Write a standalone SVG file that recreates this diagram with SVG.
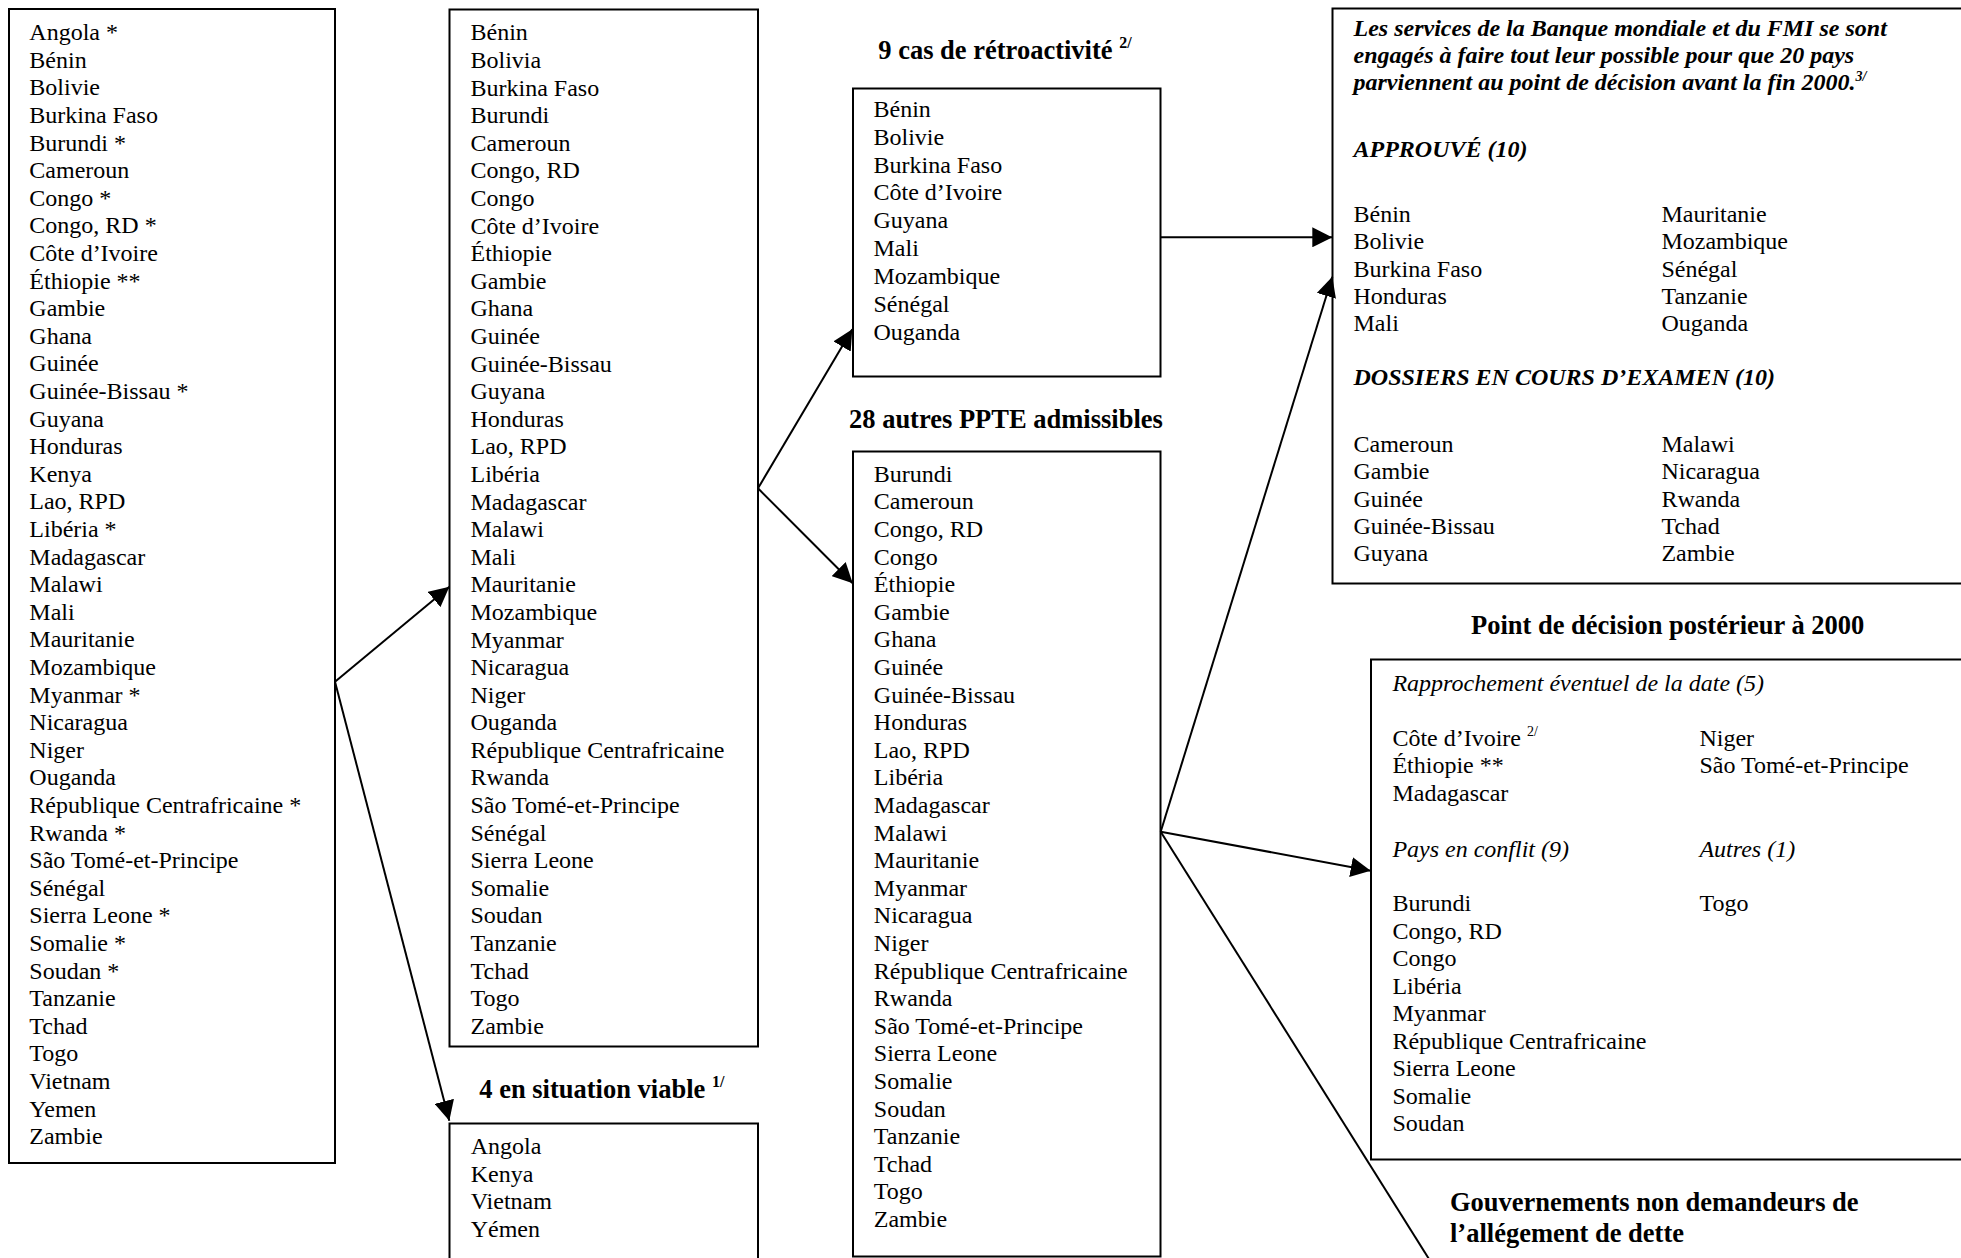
<svg xmlns="http://www.w3.org/2000/svg" width="1961" height="1258" viewBox="0 0 1961 1258">
<style>
.bx{fill:none;stroke:#000;stroke-width:2}
.cn line{stroke:#000;stroke-width:2}
text{font-family:"Liberation Serif","Times New Roman",serif;font-size:24px;fill:#000}
.h{font-weight:bold;font-size:26.5px}
.bi{font-weight:bold;font-style:italic}
.it{font-style:italic}
.sup{font-size:16px}
.sups{font-size:14px}
</style>
<defs>
<marker id="ah" markerWidth="20" markerHeight="20" refX="20" refY="10" orient="auto" markerUnits="userSpaceOnUse"><path d="M0,0 L20,10 L0,20 z" fill="#000"/></marker>
</defs>
<rect width="1961" height="1258" fill="#fff"/>

<g id="all-countries">
<rect class="bx" x="9" y="9" width="326" height="1154"/>
<text x="29.3" y="40.2"><tspan x="29.3" dy="0">Angola *</tspan><tspan x="29.3" dy="27.6">Bénin</tspan><tspan x="29.3" dy="27.6">Bolivie</tspan><tspan x="29.3" dy="27.6">Burkina Faso</tspan><tspan x="29.3" dy="27.6">Burundi  *</tspan><tspan x="29.3" dy="27.6">Cameroun</tspan><tspan x="29.3" dy="27.6">Congo *</tspan><tspan x="29.3" dy="27.6">Congo, RD *</tspan><tspan x="29.3" dy="27.6">Côte d’Ivoire</tspan><tspan x="29.3" dy="27.6">Éthiopie **</tspan><tspan x="29.3" dy="27.6">Gambie</tspan><tspan x="29.3" dy="27.6">Ghana</tspan><tspan x="29.3" dy="27.6">Guinée</tspan><tspan x="29.3" dy="27.6">Guinée-Bissau *</tspan><tspan x="29.3" dy="27.6">Guyana</tspan><tspan x="29.3" dy="27.6">Honduras</tspan><tspan x="29.3" dy="27.6">Kenya</tspan><tspan x="29.3" dy="27.6">Lao, RPD</tspan><tspan x="29.3" dy="27.6">Libéria *</tspan><tspan x="29.3" dy="27.6">Madagascar</tspan><tspan x="29.3" dy="27.6">Malawi</tspan><tspan x="29.3" dy="27.6">Mali</tspan><tspan x="29.3" dy="27.6">Mauritanie</tspan><tspan x="29.3" dy="27.6">Mozambique</tspan><tspan x="29.3" dy="27.6">Myanmar *</tspan><tspan x="29.3" dy="27.6">Nicaragua</tspan><tspan x="29.3" dy="27.6">Niger</tspan><tspan x="29.3" dy="27.6">Ouganda</tspan><tspan x="29.3" dy="27.6">République Centrafricaine *</tspan><tspan x="29.3" dy="27.6">Rwanda *</tspan><tspan x="29.3" dy="27.6">São Tomé-et-Principe</tspan><tspan x="29.3" dy="27.6">Sénégal</tspan><tspan x="29.3" dy="27.6">Sierra Leone *</tspan><tspan x="29.3" dy="27.6">Somalie *</tspan><tspan x="29.3" dy="27.6">Soudan *</tspan><tspan x="29.3" dy="27.6">Tanzanie</tspan><tspan x="29.3" dy="27.6">Tchad</tspan><tspan x="29.3" dy="27.6">Togo</tspan><tspan x="29.3" dy="27.6">Vietnam</tspan><tspan x="29.3" dy="27.6">Yemen</tspan><tspan x="29.3" dy="27.6">Zambie</tspan></text>
</g>

<g id="hipc-list">
<rect class="bx" x="449.5" y="9.5" width="308.5" height="1037"/>
<text x="470.5" y="40.3"><tspan x="470.5" dy="0">Bénin</tspan><tspan x="470.5" dy="27.6">Bolivia</tspan><tspan x="470.5" dy="27.6">Burkina Faso</tspan><tspan x="470.5" dy="27.6">Burundi</tspan><tspan x="470.5" dy="27.6">Cameroun</tspan><tspan x="470.5" dy="27.6">Congo, RD</tspan><tspan x="470.5" dy="27.6">Congo</tspan><tspan x="470.5" dy="27.6">Côte d’Ivoire</tspan><tspan x="470.5" dy="27.6">Éthiopie</tspan><tspan x="470.5" dy="27.6">Gambie</tspan><tspan x="470.5" dy="27.6">Ghana</tspan><tspan x="470.5" dy="27.6">Guinée</tspan><tspan x="470.5" dy="27.6">Guinée-Bissau</tspan><tspan x="470.5" dy="27.6">Guyana</tspan><tspan x="470.5" dy="27.6">Honduras</tspan><tspan x="470.5" dy="27.6">Lao, RPD</tspan><tspan x="470.5" dy="27.6">Libéria</tspan><tspan x="470.5" dy="27.6">Madagascar</tspan><tspan x="470.5" dy="27.6">Malawi</tspan><tspan x="470.5" dy="27.6">Mali</tspan><tspan x="470.5" dy="27.6">Mauritanie</tspan><tspan x="470.5" dy="27.6">Mozambique</tspan><tspan x="470.5" dy="27.6">Myanmar</tspan><tspan x="470.5" dy="27.6">Nicaragua</tspan><tspan x="470.5" dy="27.6">Niger</tspan><tspan x="470.5" dy="27.6">Ouganda</tspan><tspan x="470.5" dy="27.6">République Centrafricaine</tspan><tspan x="470.5" dy="27.6">Rwanda</tspan><tspan x="470.5" dy="27.6">São Tomé-et-Principe</tspan><tspan x="470.5" dy="27.6">Sénégal</tspan><tspan x="470.5" dy="27.6">Sierra Leone</tspan><tspan x="470.5" dy="27.6">Somalie</tspan><tspan x="470.5" dy="27.6">Soudan</tspan><tspan x="470.5" dy="27.6">Tanzanie</tspan><tspan x="470.5" dy="27.6">Tchad</tspan><tspan x="470.5" dy="27.6">Togo</tspan><tspan x="470.5" dy="27.6">Zambie</tspan></text>
</g>

<g id="viable">
<text class="h" x="479.3" y="1098.3">4 en situation viable <tspan class="sup" dy="-11">1/</tspan></text>
<rect class="bx" x="449.5" y="1123.5" width="308.5" height="160"/>
<text x="470.7" y="1154"><tspan x="470.7" dy="0">Angola</tspan><tspan x="470.7" dy="27.6">Kenya</tspan><tspan x="470.7" dy="27.6">Vietnam</tspan><tspan x="470.7" dy="27.6">Yémen</tspan></text>
</g>

<g id="retro">
<text class="h" x="878.3" y="59.3">9 cas de rétroactivité <tspan class="sup" dy="-11">2/</tspan></text>
<rect class="bx" x="853" y="88.5" width="307.5" height="288"/>
<text x="873.5" y="116.7"><tspan x="873.5" dy="0">Bénin</tspan><tspan x="873.5" dy="27.9">Bolivie</tspan><tspan x="873.5" dy="27.9">Burkina Faso</tspan><tspan x="873.5" dy="27.9">Côte d’Ivoire</tspan><tspan x="873.5" dy="27.9">Guyana</tspan><tspan x="873.5" dy="27.9">Mali</tspan><tspan x="873.5" dy="27.9">Mozambique</tspan><tspan x="873.5" dy="27.9">Sénégal</tspan><tspan x="873.5" dy="27.9">Ouganda</tspan></text>
</g>

<g id="others28">
<text class="h" x="849" y="428.3">28 autres PPTE admissibles</text>
<rect class="bx" x="853" y="451.5" width="307.5" height="805"/>
<text x="873.8" y="481.7"><tspan x="873.8" dy="0">Burundi</tspan><tspan x="873.8" dy="27.6">Cameroun</tspan><tspan x="873.8" dy="27.6">Congo, RD</tspan><tspan x="873.8" dy="27.6">Congo</tspan><tspan x="873.8" dy="27.6">Éthiopie</tspan><tspan x="873.8" dy="27.6">Gambie</tspan><tspan x="873.8" dy="27.6">Ghana</tspan><tspan x="873.8" dy="27.6">Guinée</tspan><tspan x="873.8" dy="27.6">Guinée-Bissau</tspan><tspan x="873.8" dy="27.6">Honduras</tspan><tspan x="873.8" dy="27.6">Lao, RPD</tspan><tspan x="873.8" dy="27.6">Libéria</tspan><tspan x="873.8" dy="27.6">Madagascar</tspan><tspan x="873.8" dy="27.6">Malawi</tspan><tspan x="873.8" dy="27.6">Mauritanie</tspan><tspan x="873.8" dy="27.6">Myanmar</tspan><tspan x="873.8" dy="27.6">Nicaragua</tspan><tspan x="873.8" dy="27.6">Niger</tspan><tspan x="873.8" dy="27.6">République Centrafricaine</tspan><tspan x="873.8" dy="27.6">Rwanda</tspan><tspan x="873.8" dy="27.6">São Tomé-et-Principe</tspan><tspan x="873.8" dy="27.6">Sierra Leone</tspan><tspan x="873.8" dy="27.6">Somalie</tspan><tspan x="873.8" dy="27.6">Soudan</tspan><tspan x="873.8" dy="27.6">Tanzanie</tspan><tspan x="873.8" dy="27.6">Tchad</tspan><tspan x="873.8" dy="27.6">Togo</tspan><tspan x="873.8" dy="27.6">Zambie</tspan></text>
</g>

<g id="decision-2000">
<rect class="bx" x="1332.5" y="8.5" width="700" height="575"/>
<text class="bi" x="1353.5" y="36.4">Les services de la Banque mondiale et du FMI se sont</text>
<text class="bi" x="1353.5" y="63.1">engagés à faire tout leur possible pour que 20 pays</text>
<text class="bi" x="1353.5" y="90">parviennent au point de décision avant la fin 2000.<tspan class="sups" dy="-9">3/</tspan></text>
<text class="bi" x="1353.5" y="157">APPROUVÉ (10)</text>
<text x="1353.5" y="222"><tspan x="1353.5" dy="0">Bénin</tspan><tspan x="1353.5" dy="27.35">Bolivie</tspan><tspan x="1353.5" dy="27.35">Burkina Faso</tspan><tspan x="1353.5" dy="27.35">Honduras</tspan><tspan x="1353.5" dy="27.35">Mali</tspan></text>
<text x="1661.4" y="222"><tspan x="1661.4" dy="0">Mauritanie</tspan><tspan x="1661.4" dy="27.35">Mozambique</tspan><tspan x="1661.4" dy="27.35">Sénégal</tspan><tspan x="1661.4" dy="27.35">Tanzanie</tspan><tspan x="1661.4" dy="27.35">Ouganda</tspan></text>
<text class="bi" x="1353.5" y="384.6">DOSSIERS EN COURS D’EXAMEN (10)</text>
<text x="1353.5" y="451.6"><tspan x="1353.5" dy="0">Cameroun</tspan><tspan x="1353.5" dy="27.45">Gambie</tspan><tspan x="1353.5" dy="27.45">Guinée</tspan><tspan x="1353.5" dy="27.45">Guinée-Bissau</tspan><tspan x="1353.5" dy="27.45">Guyana</tspan></text>
<text x="1661.4" y="451.6"><tspan x="1661.4" dy="0">Malawi</tspan><tspan x="1661.4" dy="27.45">Nicaragua</tspan><tspan x="1661.4" dy="27.45">Rwanda</tspan><tspan x="1661.4" dy="27.45">Tchad</tspan><tspan x="1661.4" dy="27.45">Zambie</tspan></text>
</g>

<g id="decision-after-2000">
<text class="h" x="1471" y="634.4">Point de décision postérieur à 2000</text>
<rect class="bx" x="1371" y="659.5" width="700" height="500"/>
<text class="it" x="1392.4" y="691">Rapprochement éventuel de la date (5)</text>
<text x="1392.4" y="746">Côte d’Ivoire <tspan class="sups" dy="-10">2/</tspan></text>
<text x="1392.4" y="773.3">Éthiopie **</text>
<text x="1392.4" y="801.4">Madagascar</text>
<text x="1699.4" y="746">Niger</text>
<text x="1699.4" y="773.3">São Tomé-et-Principe</text>
<text class="it" x="1392.4" y="856.8">Pays en conflit (9)</text>
<text class="it" x="1699.4" y="856.8">Autres (1)</text>
<text x="1392.4" y="911.4"><tspan x="1392.4" dy="0">Burundi</tspan><tspan x="1392.4" dy="27.5">Congo, RD</tspan><tspan x="1392.4" dy="27.5">Congo</tspan><tspan x="1392.4" dy="27.5">Libéria</tspan><tspan x="1392.4" dy="27.5">Myanmar</tspan><tspan x="1392.4" dy="27.5">République Centrafricaine</tspan><tspan x="1392.4" dy="27.5">Sierra Leone</tspan><tspan x="1392.4" dy="27.5">Somalie</tspan><tspan x="1392.4" dy="27.5">Soudan</tspan></text>
<text x="1699.4" y="911.4">Togo</text>
</g>

<g id="non-demandeurs">
<text class="h" x="1450" y="1210.6">Gouvernements non demandeurs de</text>
<text class="h" x="1450" y="1242">l’allégement de dette</text>
</g>

<g id="connectors" class="cn">
<line x1="335" y1="681.7" x2="449.4" y2="586.7" marker-end="url(#ah)"/>
<line x1="335" y1="681.7" x2="449.3" y2="1120.7" marker-end="url(#ah)"/>
<line x1="758" y1="488.3" x2="852.3" y2="329.3" marker-end="url(#ah)"/>
<line x1="758" y1="488.3" x2="852.7" y2="583.3" marker-end="url(#ah)"/>
<line x1="1160.7" y1="237.3" x2="1332.3" y2="237.3" marker-end="url(#ah)"/>
<line x1="1160.7" y1="831.7" x2="1332.3" y2="276.7" marker-end="url(#ah)"/>
<line x1="1160.7" y1="831.7" x2="1370.7" y2="870.7" marker-end="url(#ah)"/>
<line x1="1160.7" y1="831.7" x2="1431.5" y2="1263"/>
</g>
</svg>
